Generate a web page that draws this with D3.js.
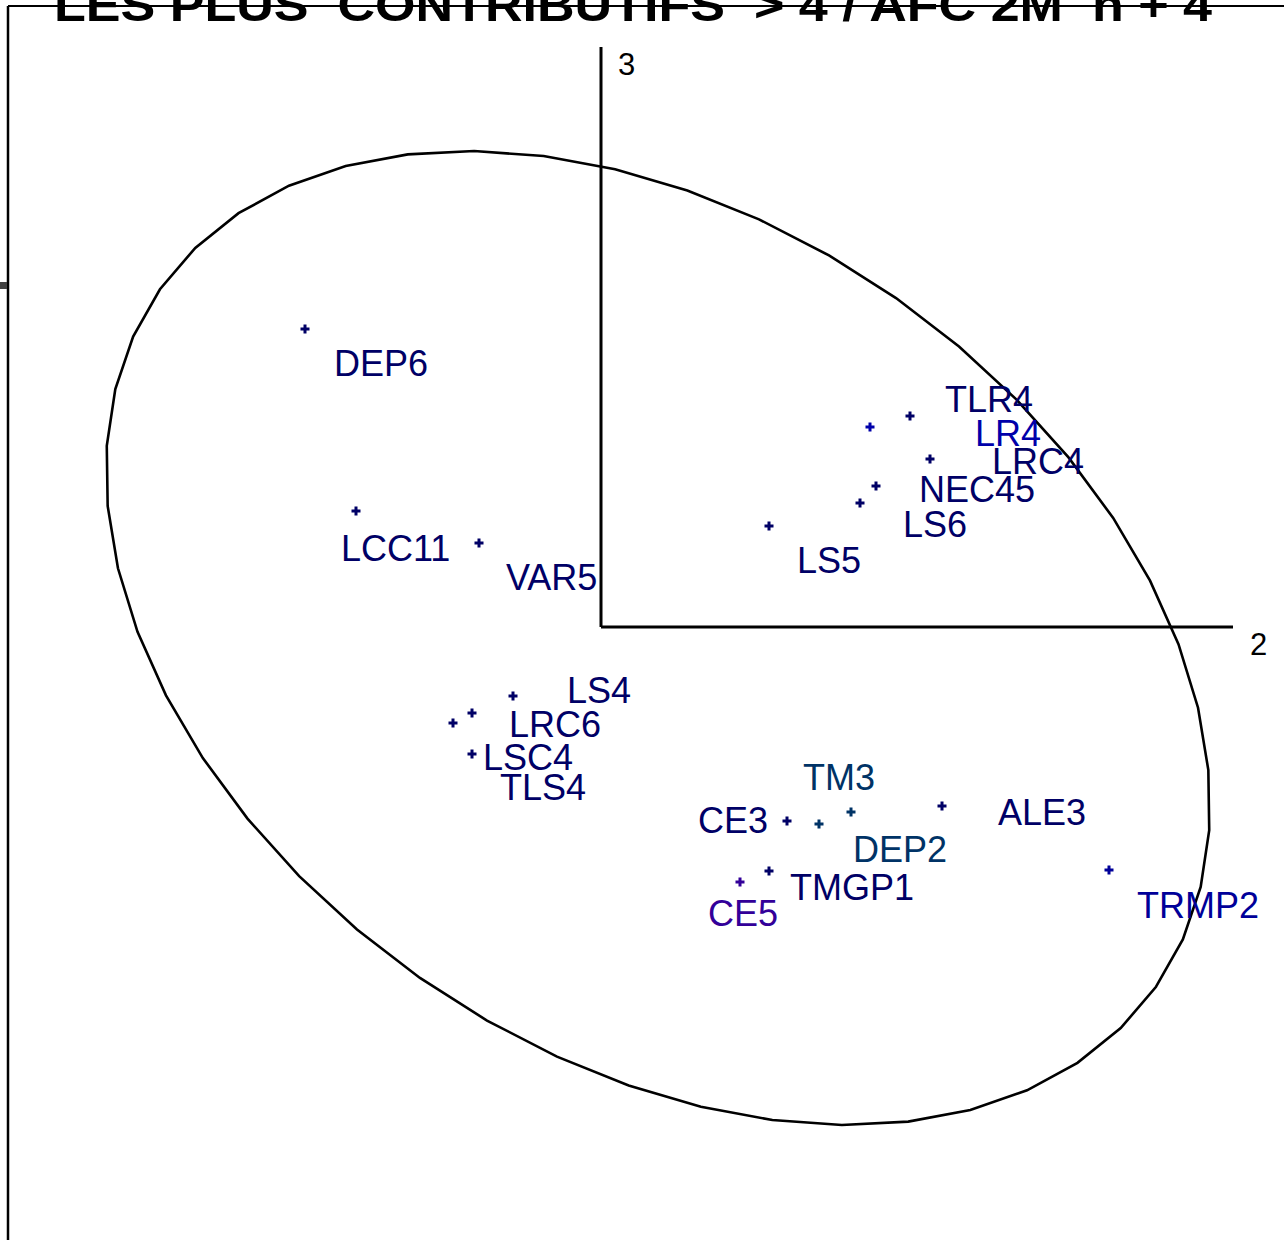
<!DOCTYPE html>
<html>
<head>
<meta charset="utf-8">
<script src="https://cdn.jsdelivr.net/npm/d3@7"></script>
<style>
  body { margin: 0; background: #fff; }
  svg { display: block; }
</style>
</head>
<body>
<div id="chart"></div>
<script>
// modalities (factor plane 2 x 3), marker coords and label anchor coords
var names  = ["DEP6", "LCC11", "VAR5", "TLR4", "LR4", "LRC4", "NEC45", "LS6", "LS5",
              "LS4", "LRC6", "LSC4", "TLS4", "TM3", "CE3", "DEP2", "TMGP1", "CE5", "ALE3", "TRMP2"];
var ptX    = [-2.96, -2.45, -1.22, 3.09, 2.69, 3.29, 2.75, 2.59, 1.68,
              -0.88, -1.29, -1.29, -1.48, 2.50, 1.86, 2.18, 1.68, 1.39, 3.41, 5.08];
var ptY    = [2.98, 1.16, 0.84, 2.11, 2.00, 1.68, 1.41, 1.24, 1.01,
              -0.69, -0.86, -1.27, -0.96, -1.85, -1.94, -1.97, -2.44, -2.55, -1.79, -2.43];
var labX   = [-2.67, -2.60, -0.95, 3.44, 3.74, 3.91, 3.18, 3.02, 1.96,
              -0.34, -0.92, -1.18, -1.01, 2.02, 0.97, 2.52, 1.89, 1.07, 3.97, 5.36];
var labY   = [2.51, 0.66, 0.37, 2.15, 1.81, 1.53, 1.25, 0.90, 0.54,
              -0.76, -1.10, -1.43, -1.73, -1.63, -2.06, -2.35, -2.73, -2.99, -1.98, -2.91];
var colors = ["#000066", "#000066", "#000066", "#000066", "#0000aa", "#000066", "#000066", "#000066", "#000066",
              "#000066", "#000066", "#000066", "#000066", "#003366", "#000066", "#003366", "#000066", "#330099", "#000066", "#000099"];

// axis ends and axis numbers
var axisEnd = { x: 6.32, y: 5.80 };
var axisNames = ["2", "3"];

// confidence ellipse: centre, semi-axes, tilt (deg, downward to the right)
var ell = { cx: 0.57, cy: -0.11, a: 6.08, b: 4.15, tilt: 35 };

var title = "LES PLUS  CONTRIBUTIFS  > 4 / AFC 2M  n + 4";

var W = 1284, H = 1240;

var svg = d3.select('#chart').append('svg')
    .attr('width', W)
    .attr('height', H);

var x = d3.scaleLinear().domain([-6.01, 6.83]).range([0, W]);
var y = d3.scaleLinear().domain([6.27, -6.13]).range([0, H]);

var data = names.map(function (n, i) {
    return { name: n, x: ptX[i], y: ptY[i], lx: labX[i], ly: labY[i], color: colors[i] };
});

// title (clipped at top)
svg.append('text')
    .attr('x', 54)
    .attr('y', 21)
    .attr('font-family', 'Liberation Sans, Arial, sans-serif')
    .attr('font-weight', 'bold')
    .attr('font-size', 46)
    .attr('textLength', 1158)
    .attr('lengthAdjust', 'spacingAndGlyphs')
    .style('white-space', 'pre')
    .attr('fill', '#000')
    .text(title);

// frame lines
svg.append('line')
    .attr('x1', 8).attr('y1', 6).attr('x2', W).attr('y2', 6)
    .attr('stroke', '#000').attr('stroke-width', 2);
svg.append('line')
    .attr('x1', 8).attr('y1', 6).attr('x2', 8).attr('y2', H)
    .attr('stroke', '#000').attr('stroke-width', 2.5);
svg.append('rect')
    .attr('x', 0).attr('y', 282).attr('width', 7).attr('height', 7)
    .attr('fill', '#404040');

// ellipse as polygon
var t = ell.tilt * Math.PI / 180;
var ellPts = d3.range(48).map(function (k) {
    var u = 2 * Math.PI * k / 48;
    var ex = ell.a * Math.cos(u), ey = ell.b * Math.sin(u);
    return [ell.cx + ex * Math.cos(t) + ey * Math.sin(t),
            ell.cy - ex * Math.sin(t) + ey * Math.cos(t)];
});
svg.append('path')
    .attr('d', d3.line().x(d => x(d[0])).y(d => y(d[1])).curve(d3.curveLinearClosed)(ellPts))
    .attr('fill', 'none')
    .attr('stroke', '#000')
    .attr('stroke-width', 2.6);

// axes
svg.append('line')
    .attr('x1', x(0)).attr('y1', y(0)).attr('x2', x(axisEnd.x)).attr('y2', y(0))
    .attr('stroke', '#000').attr('stroke-width', 3);
svg.append('line')
    .attr('x1', x(0)).attr('y1', y(0)).attr('x2', x(0)).attr('y2', y(axisEnd.y))
    .attr('stroke', '#000').attr('stroke-width', 3);

svg.append('text')
    .attr('x', x(axisEnd.x) + 17).attr('y', y(0) + 28)
    .attr('font-family', 'Liberation Sans, Arial, sans-serif')
    .attr('font-size', 31).attr('fill', '#000')
    .text(axisNames[0]);
svg.append('text')
    .attr('x', x(0) + 17).attr('y', y(axisEnd.y) + 28)
    .attr('font-family', 'Liberation Sans, Arial, sans-serif')
    .attr('font-size', 31).attr('fill', '#000')
    .text(axisNames[1]);

// markers
svg.selectAll('.pt')
    .data(data)
    .enter()
    .append('path')
    .attr('class', 'pt')
    .attr('d', d3.symbol(d3.symbolCross, 45))
    .attr('transform', d => 'translate(' + x(d.x) + ',' + y(d.y) + ')')
    .attr('fill', d => d.color);

// labels
svg.selectAll('.lab')
    .data(data)
    .enter()
    .append('text')
    .attr('class', 'lab')
    .attr('x', d => x(d.lx))
    .attr('y', d => y(d.ly))
    .attr('font-family', 'Liberation Sans, Arial, sans-serif')
    .attr('font-size', 36)
    .attr('fill', d => d.color)
    .text(d => d.name);
</script>
</body>
</html>
